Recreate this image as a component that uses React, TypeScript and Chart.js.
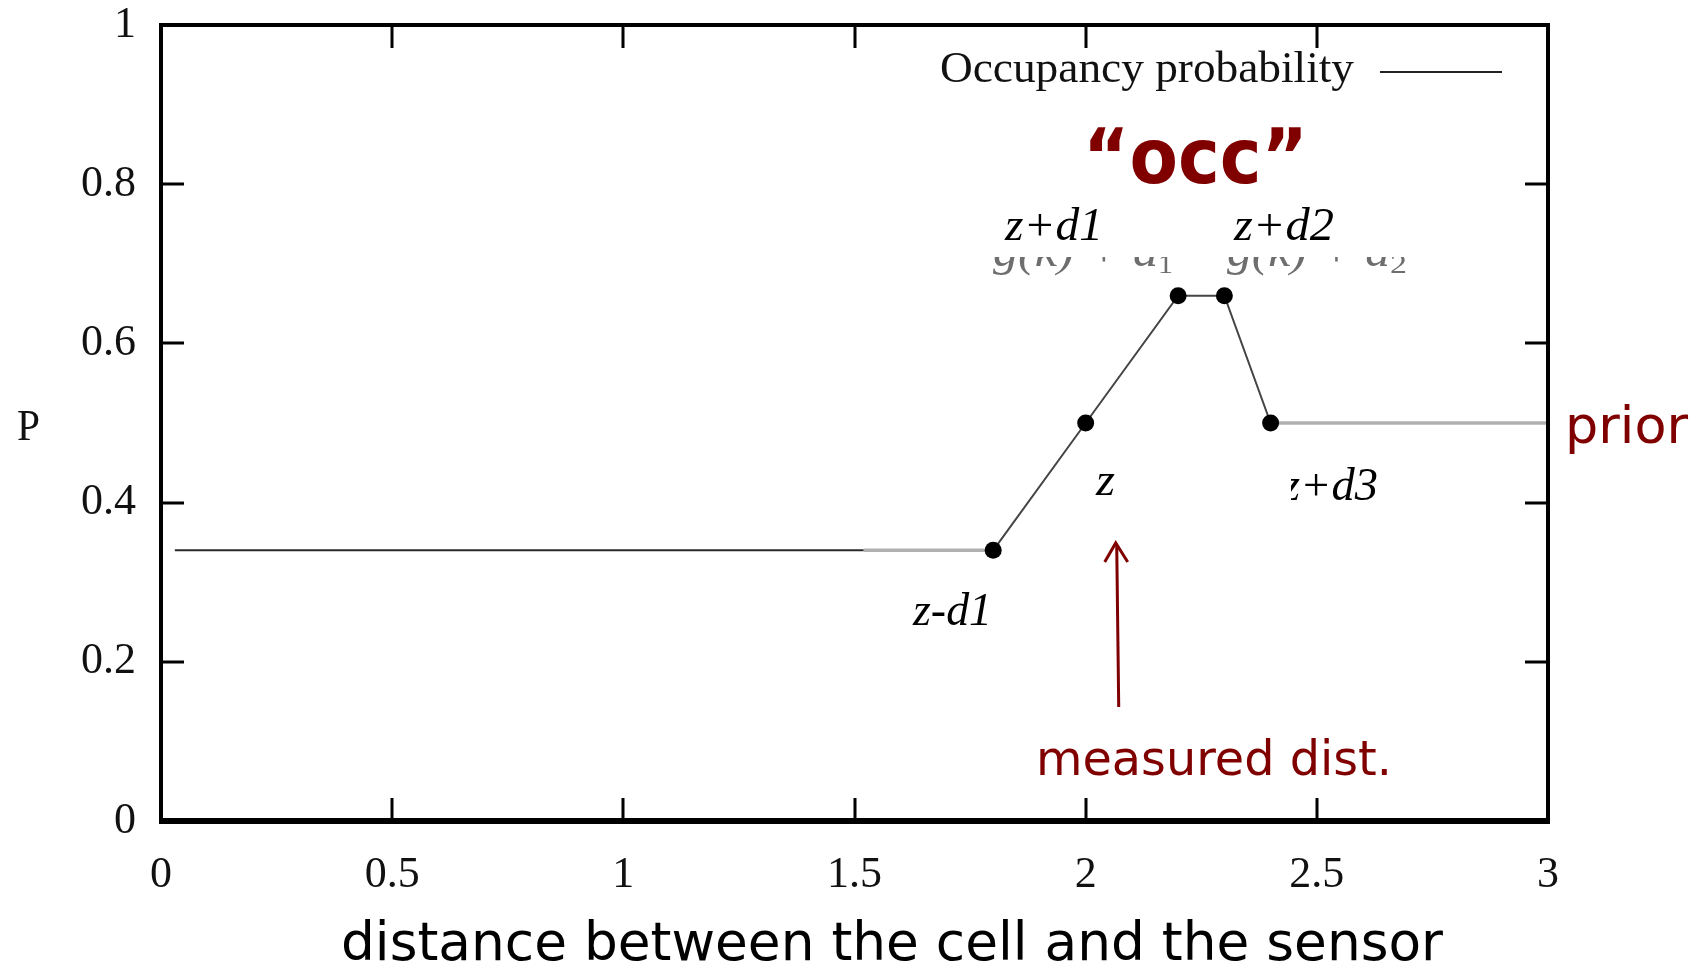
import React, { useEffect, useRef } from "react";
import { Chart, registerables } from "chart.js";

Chart.register(...registerables);

// ---- data ----
const seriesLabel = "Occupancy probability";
const distance = [0.03, 1.52, 1.8, 2.0, 2.2, 2.3, 2.4, 3.0];
const probability = [0.34, 0.34, 0.34, 0.5, 0.66, 0.66, 0.5, 0.5];
const markerShown = [false, false, true, true, true, true, true, false];
const segmentTone = ["dark", "light", "mid", "mid", "mid", "mid", "light"];
const xTickValues = [0.5, 1, 1.5, 2, 2.5];
const yTickValues = [0.2, 0.4, 0.6, 0.8];
const measuredDistance = 2.065;
const xTitle = "distance between the cell and the sensor";
const yTitle = "P";

const tones: Record<string, { color: string; width: number }> = {
  dark: { color: "#2a2a2a", width: 2 },
  light: { color: "#b0b0b0", width: 3.5 },
  mid: { color: "#444444", width: 2 },
};

const RED = "#800000";
const SERIF = '"Liberation Serif", "Times New Roman", serif';
const SANS = '"DejaVu Sans", sans-serif';

function fitText(
  ctx: CanvasRenderingContext2D,
  text: string,
  left: number,
  right: number,
  baseline: number,
  font: string,
  color: string
) {
  ctx.save();
  ctx.font = font;
  ctx.textAlign = "left";
  ctx.textBaseline = "alphabetic";
  const w = ctx.measureText(text).width;
  const sx = (right - left) / w;
  ctx.translate(left, baseline);
  ctx.scale(sx, 1);
  ctx.fillStyle = color;
  ctx.fillText(text, 0, 0);
  ctx.restore();
}

const decorPlugin = {
  id: "decor",
  afterDatasetsDraw(chart: any) {
    const ctx: CanvasRenderingContext2D = chart.ctx;
    const { left, right, top, bottom } = chart.chartArea;
    const xs = chart.scales.x;
    const ys = chart.scales.y;

    ctx.save();
    // frame
    ctx.strokeStyle = "#000";
    ctx.lineCap = "butt";
    ctx.lineWidth = 4;
    ctx.beginPath();
    ctx.moveTo(left, bottom);
    ctx.lineTo(left, top);
    ctx.lineTo(right, top);
    ctx.lineTo(right, bottom);
    ctx.stroke();
    ctx.lineWidth = 6;
    ctx.beginPath();
    ctx.moveTo(left - 2, bottom);
    ctx.lineTo(right + 2, bottom);
    ctx.stroke();

    // inner ticks
    ctx.lineWidth = 3;
    const tl = 23;
    xTickValues.forEach((v) => {
      const px = Math.round(xs.getPixelForValue(v));
      ctx.beginPath();
      ctx.moveTo(px, bottom);
      ctx.lineTo(px, bottom - tl);
      ctx.moveTo(px, top);
      ctx.lineTo(px, top + tl);
      ctx.stroke();
    });
    yTickValues.forEach((v) => {
      const py = Math.round(ys.getPixelForValue(v));
      ctx.beginPath();
      ctx.moveTo(left, py);
      ctx.lineTo(left + tl, py);
      ctx.moveTo(right, py);
      ctx.lineTo(right - tl, py);
      ctx.stroke();
    });

    // legend
    const ds = chart.data.datasets[0];
    fitText(ctx, ds.label, 940, 1354, 82, `44px ${SERIF}`, "#111");
    ctx.strokeStyle = "#222";
    ctx.lineWidth = 2;
    ctx.beginPath();
    ctx.moveTo(1380, 72);
    ctx.lineTo(1502, 72);
    ctx.stroke();

    // "occ"
    fitText(ctx, "\u201Cocc\u201D", 1083, 1308, 183, `bold 76px ${SANS}`, RED);

    // labels near points
    const it = `italic 46px ${SERIF}`;
    fitText(ctx, "z+d1", 1005, 1103, 240, it, "#000");
    fitText(ctx, "z+d2", 1234, 1334, 240, it, "#000");
    fitText(ctx, "z", 1096, 1115, 495, it, "#000");
    fitText(ctx, "z-d1", 913, 992, 625, it, "#000");
    ctx.save();
    ctx.beginPath();
    ctx.rect(1291, 440, 200, 80);
    ctx.clip();
    fitText(ctx, "z+d3", 1282, 1378, 500, it, "#000");
    ctx.restore();

    // ghost formula labels (clipped on top)
    ctx.save();
    ctx.beginPath();
    ctx.rect(0, 257, 1705, 30);
    ctx.clip();
    const gf = `italic 44px ${SERIF}`;
    const gc = "#6e6e6e";
    fitText(ctx, "g(k) + d", 993, 1158, 266, gf, gc);
    fitText(ctx, "1", 1158, 1173, 273, `28px ${SERIF}`, gc);
    fitText(ctx, "g(k) + d", 1227, 1390, 266, gf, gc);
    fitText(ctx, "2", 1390, 1407, 273, `28px ${SERIF}`, gc);
    ctx.restore();

    // prior
    fitText(ctx, "prior", 1565, 1688, 443, `52px ${SANS}`, RED);

    // measured distance arrow
    const ax = xs.getPixelForValue(measuredDistance);
    ctx.strokeStyle = RED;
    ctx.lineWidth = 3;
    ctx.beginPath();
    ctx.moveTo(ax + 3, 707);
    ctx.lineTo(ax + 1, 545);
    ctx.stroke();
    ctx.beginPath();
    ctx.moveTo(ax - 11, 562);
    ctx.lineTo(ax, 543);
    ctx.lineTo(ax + 12, 562);
    ctx.stroke();
    fitText(ctx, "measured dist.", 1036, 1392, 775, `48px ${SANS}`, RED);

    // axis titles
    fitText(ctx, xTitle, 341, 1443, 960, `53px ${SANS}`, "#000");
    fitText(ctx, yTitle, 17, 40, 440, `44px ${SERIF}`, "#111");

    ctx.restore();
  },
};

export default function App() {
  const ref = useRef<HTMLCanvasElement | null>(null);

  useEffect(() => {
    if (!ref.current) return;
    const chart = new Chart(ref.current, {
      type: "line",
      data: {
        datasets: [
          {
            label: seriesLabel,
            data: distance.map((x, i) => ({ x, y: probability[i] })),
            borderColor: "#333",
            borderWidth: 2,
            pointRadius: markerShown.map((m) => (m ? 8.5 : 0)),
            pointHoverRadius: markerShown.map((m) => (m ? 8.5 : 0)),
            pointBackgroundColor: "#000",
            pointBorderColor: "#000",
            pointBorderWidth: 0,
            tension: 0,
            clip: false as any,
            segment: {
              borderColor: (c: any) => tones[segmentTone[c.p0DataIndex]].color,
              borderWidth: (c: any) => tones[segmentTone[c.p0DataIndex]].width,
            },
          } as any,
        ],
      },
      options: {
        animation: false,
        responsive: false,
        maintainAspectRatio: false,
        layout: { padding: { top: 25, right: 157, left: 0, bottom: 0 } },
        plugins: {
          legend: { display: false },
          tooltip: { enabled: false },
          title: { display: false },
        },
        events: [],
        scales: {
          x: {
            type: "linear",
            min: 0,
            max: 3,
            grid: { display: false, drawTicks: false },
            border: { display: false },
            ticks: {
              stepSize: 0.5,
              autoSkip: false,
              maxRotation: 0,
              padding: 28,
              color: "#111",
              font: { family: SERIF, size: 44 },
              callback: (v: any) => String(Number(Number(v).toFixed(2))),
            },
            afterFit: (s: any) => {
              s.height = 144;
              s.paddingLeft = 0;
              s.paddingRight = 0;
              s.paddingTop = 0;
              s.paddingBottom = 0;
            },
          },
          y: {
            type: "linear",
            min: 0,
            max: 1,
            grid: { display: false, drawTicks: false },
            border: { display: false },
            ticks: {
              stepSize: 0.2,
              padding: 25,
              color: "#111",
              font: { family: SERIF, size: 44 },
              callback: (v: any) => String(Number(Number(v).toFixed(2))),
            },
            afterFit: (s: any) => {
              s.width = 161;
              s.paddingLeft = 0;
              s.paddingRight = 0;
              s.paddingTop = 0;
              s.paddingBottom = 0;
            },
          },
        },
      },
      plugins: [decorPlugin],
    });
    return () => chart.destroy();
  }, []);

  return (
    <div style={{ position: "absolute", left: 0, top: 0, width: 1705, height: 965, background: "#fff" }}>
      <canvas ref={ref} width={1705} height={965} style={{ width: 1705, height: 965, display: "block" }} />
    </div>
  );
}
